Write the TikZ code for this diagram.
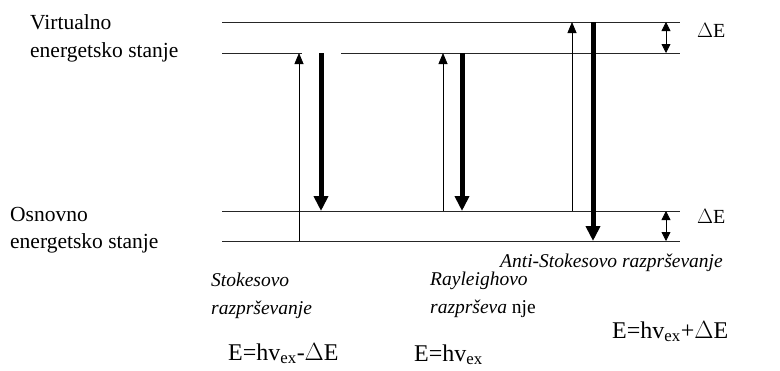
\documentclass[tikz,border=0pt]{standalone}
\usepackage{fontspec}
\setmainfont{Liberation Serif}
\usetikzlibrary{arrows.meta}
\begin{document}
\begin{tikzpicture}[x=1pt,y=-1pt,
  level/.style={line width=1pt,draw=black!85},
  thinup/.style={line width=0.8pt,-{Triangle[width=9pt,length=11pt]}},
  thickdown/.style={line width=5pt,-{Triangle[width=14pt,length=15pt]}},
  dbl/.style={line width=0.8pt,{Triangle[width=9pt,length=9pt]}-{Triangle[width=9pt,length=9pt]}},
  lab/.style={anchor=base west,inner sep=0pt,font=\fontsize{21.5}{25}\selectfont},
  ital/.style={anchor=base west,inner sep=0pt,font=\fontsize{19.5}{23}\selectfont\itshape},
  eq/.style={anchor=base west,inner sep=0pt,font=\fontsize{24}{28}\selectfont},
  de/.style={anchor=base west,inner sep=0pt,font=\fontsize{20}{24}\selectfont}]
\useasboundingbox[fill=white] (0,0) rectangle (780,370);
% level lines
\coordinate (v1l) at (222,22);  \coordinate (v1r) at (680,22);
\coordinate (v2l) at (222,53);  \coordinate (v2m) at (302,53);
\coordinate (v2n) at (341,53);  \coordinate (v2r) at (680,53);
\coordinate (g1l) at (222,211); \coordinate (g1r) at (680,211);
\coordinate (g2l) at (222,241); \coordinate (g2r) at (680,241);
\draw[level] (v1l) -- (v1r);
\draw[level] (v2l) -- (v2m);
\draw[level] (v2n) -- (v2r);
\draw[level] (g1l) -- (g1r);
\draw[level] (g2l) -- (g2r);
% Stokes
\coordinate (s1a) at (299,241); \coordinate (s1b) at (299,53);
\coordinate (s2a) at (321,53);  \coordinate (s2b) at (321,211);
\draw[thinup] (s1a) -- (s1b);
\draw[thickdown] (s2a) -- (s2b);
% Rayleigh
\coordinate (r1a) at (443,211); \coordinate (r1b) at (443,53);
\coordinate (r2a) at (462,53);  \coordinate (r2b) at (462,211);
\draw[thinup] (r1a) -- (r1b);
\draw[thickdown] (r2a) -- (r2b);
% Anti-Stokes
\coordinate (a1a) at (572,211); \coordinate (a1b) at (572,22);
\coordinate (a2a) at (593,22);  \coordinate (a2b) at (593,241);
\draw[thinup] (a1a) -- (a1b);
\draw[thickdown] (a2a) -- (a2b);
% Delta E
\coordinate (d1a) at (666,22);  \coordinate (d1b) at (666,53);
\coordinate (d2a) at (666,211); \coordinate (d2b) at (666,241);
\draw[dbl] (d1a) -- (d1b);
\draw[dbl] (d2a) -- (d2b);
\node[de] (dE1) at (697,37) {$\Delta$E};
\node[de] (dE2) at (697,223) {$\Delta$E};
% left labels
\node[lab] (virt) at (30,29) {Virtualno};
\node[lab] (ves) at (30,57) {energetsko stanje};
\node[lab] (osn) at (10,221) {Osnovno};
\node[lab] (oes) at (10,248) {energetsko stanje};
% bottom labels
\node[ital] (st1) at (211,286) {Stokesovo};
\node[ital] (st2) at (211,314) {razprševanje};
\node[ital] (ry1) at (430,285) {Rayleighovo};
\node[ital] (ry2) at (430,313) {razprševa\upshape{} nje};
\node[ital] (as1) at (500,267) {Anti-Stokesovo razprševanje};
\node[eq] (e1) at (228,360) {E=hv\textsubscript{ex}-$\Delta$E};
\node[eq] (e2) at (414,361) {E=hv\textsubscript{ex}};
\node[eq] (e3) at (612,338) {E=hv\textsubscript{ex}+$\Delta$E};
\end{tikzpicture}
\end{document}
